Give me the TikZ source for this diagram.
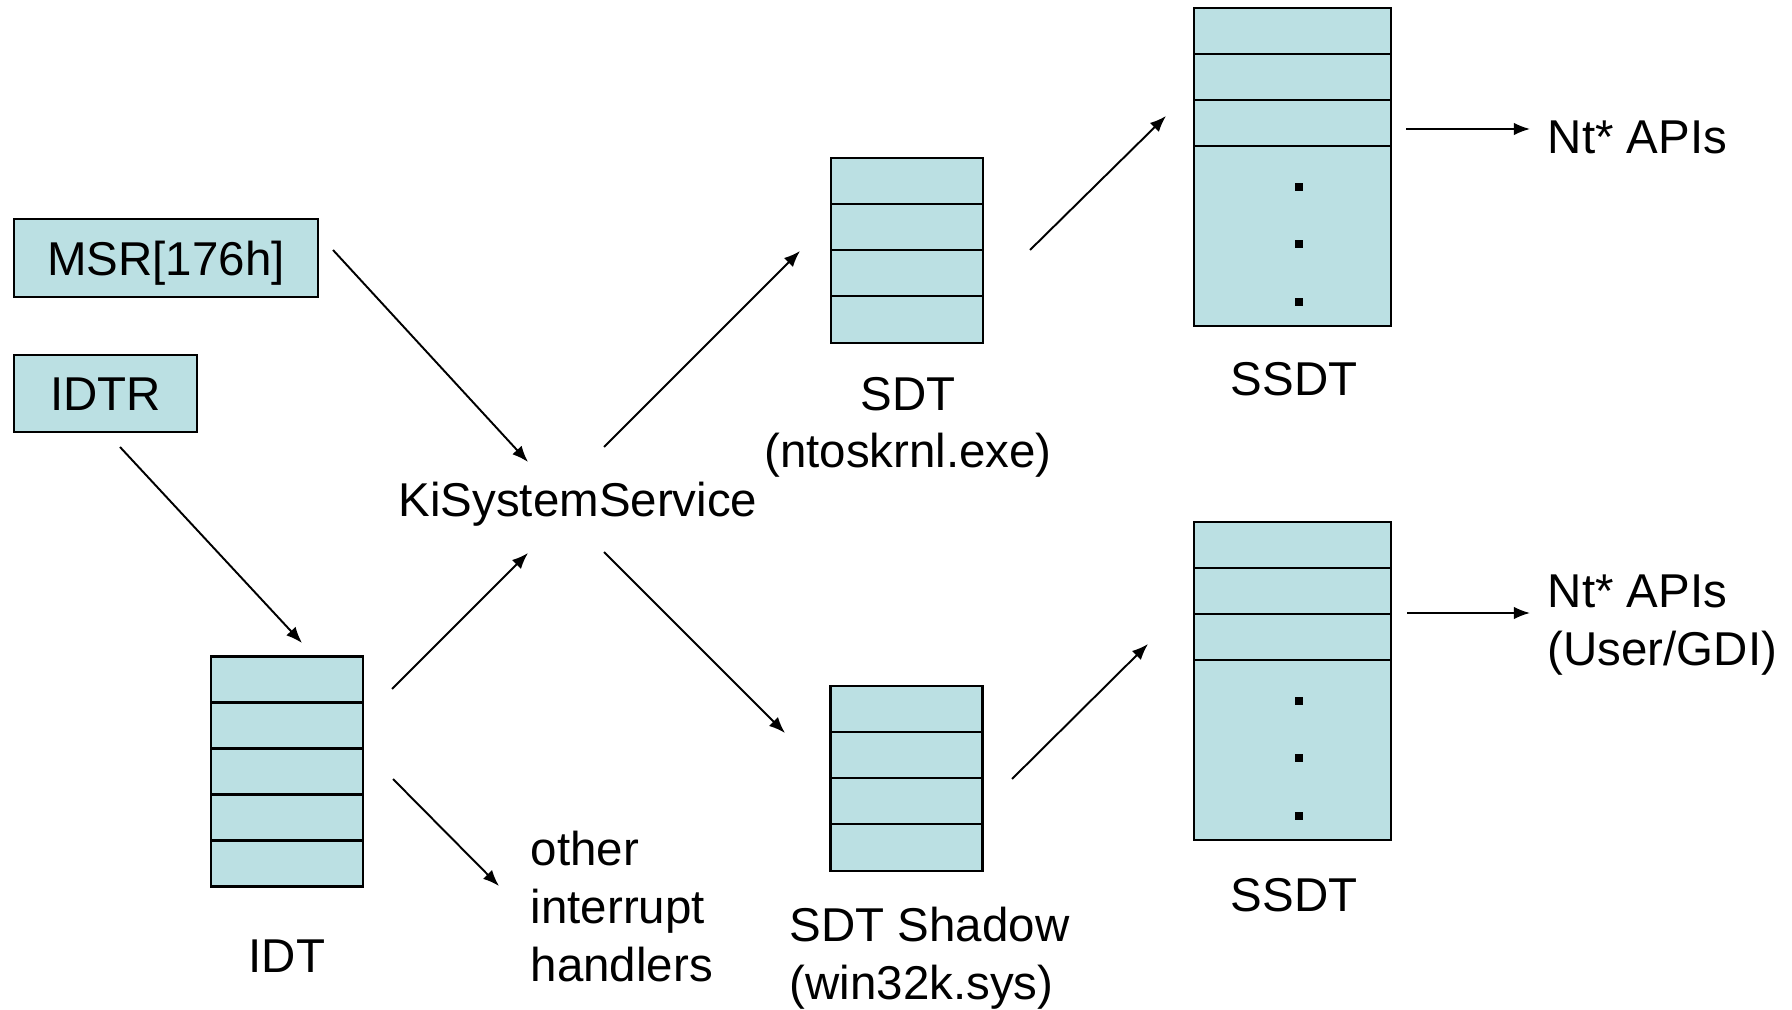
\documentclass[tikz,border=0pt]{standalone}
\usepackage{fontspec}
\setmainfont{Liberation Sans}
\usetikzlibrary{arrows.meta}
\definecolor{cellfill}{RGB}{187,224,227}
\begin{document}
\begin{tikzpicture}[x=0.01cm,y=-0.01cm,
    every node/.style={font=\fontsize{13.5pt}{16.4pt}\selectfont},
    reg/.style={draw,line width=0.7pt,fill=cellfill,inner sep=0pt,outer sep=0pt,text height=9.7pt,text depth=0pt},
    tbl/.style={draw,line width=0.7pt,fill=cellfill,inner sep=0pt,outer sep=0pt,minimum width=1.52cm},
    arr/.style={-{Latex[length=4.6pt,width=3.6pt]},line width=0.55pt},
    lbl/.style={inner sep=0pt,anchor=base}]
    \useasboundingbox (0,0) rectangle (1792,1010);
    % registers
    \node[reg,minimum width=3.04cm,minimum height=0.78cm] (msr) at (166,258) {MSR[176h]};
    \node[reg,minimum width=1.83cm,minimum height=0.77cm] (idtr) at (105.5,393.5) {IDTR};
    % tables
    \node[tbl,minimum height=2.30cm] (idt) at (287,771.5) {};
    \node[tbl,minimum height=1.85cm] (sdt) at (907,250.5) {};
    \node[tbl,minimum height=1.85cm] (shadow) at (906.5,778.5) {};
    \node[tbl,minimum width=1.97cm,minimum height=3.18cm] (ssdt) at (1292.5,167) {};
    \node[tbl,minimum width=1.97cm,minimum height=3.18cm] (ssdtb) at (1292.5,681) {};
    \foreach \t/\n in {idt/4,sdt/3,shadow/3,ssdt/3,ssdtb/3}
        \foreach \i in {1,...,\n}
            \draw[line width=0.7pt] ([yshift=-\i*0.46cm]\t.north west) -- ([yshift=-\i*0.46cm]\t.north east);
    \foreach \t in {ssdt,ssdtb}
        \foreach \dy in {1.79,2.36,2.94}
            \fill ([xshift=0.065cm,yshift=-\dy cm]\t.north) +(-0.04cm,-0.04cm) rectangle +(0.04cm,0.04cm);
    % labels (multi-line ones sit on their last baseline)
    \node[lbl] (ki) at (578,517) {KiSystemService};
    \node[lbl] (idt-l) at (287,972) {IDT};
    \node[lbl,align=center] (sdt-l) at (908,468) {SDT\\(ntoskrnl.exe)};
    \node[lbl,align=left,anchor=base west] (shadow-l) at (789,999) {SDT Shadow\\(win32k.sys)};
    \node[lbl] (ssdt-l) at (1294,396) {SSDT};
    \node[lbl] (ssdtb-l) at (1294,911) {SSDT};
    \node[lbl,align=left,anchor=base west] (other) at (530,981) {other\\interrupt\\handlers};
    \node[lbl,anchor=base west] (nt) at (1547,154) {Nt* APIs};
    \node[lbl,align=left,anchor=base west] (ntgdi) at (1547,665) {Nt* APIs\\(User/GDI)};
    % arrow ends
    \coordinate (msr-o) at (333,250);    \coordinate (ki-i1) at (528,462);
    \coordinate (idtr-o) at (120,447);   \coordinate (idt-i) at (302,643);
    \coordinate (idt-o1) at (392,689);   \coordinate (ki-i2) at (528,553);
    \coordinate (idt-o2) at (393,779);   \coordinate (other-i) at (499,886);
    \coordinate (ki-o1) at (604,447);    \coordinate (sdt-i) at (800,251);
    \coordinate (ki-o2) at (604,552);    \coordinate (shadow-i) at (785,733);
    \coordinate (sdt-o) at (1030,250);   \coordinate (ssdt-i) at (1166,116);
    \coordinate (shadow-o) at (1012,779); \coordinate (ssdtb-i) at (1148,644);
    \coordinate (ssdt-o) at (1406,129);  \coordinate (nt-i) at (1530,129);
    \coordinate (ssdtb-o) at (1407,613); \coordinate (ntgdi-i) at (1530,613);
    \draw[arr] (msr-o) -- (ki-i1);
    \draw[arr] (idtr-o) -- (idt-i);
    \draw[arr] (idt-o1) -- (ki-i2);
    \draw[arr] (idt-o2) -- (other-i);
    \draw[arr] (ki-o1) -- (sdt-i);
    \draw[arr] (ki-o2) -- (shadow-i);
    \draw[arr] (sdt-o) -- (ssdt-i);
    \draw[arr] (shadow-o) -- (ssdtb-i);
    \draw[arr] (ssdt-o) -- (nt-i);
    \draw[arr] (ssdtb-o) -- (ntgdi-i);
\end{tikzpicture}
\end{document}
